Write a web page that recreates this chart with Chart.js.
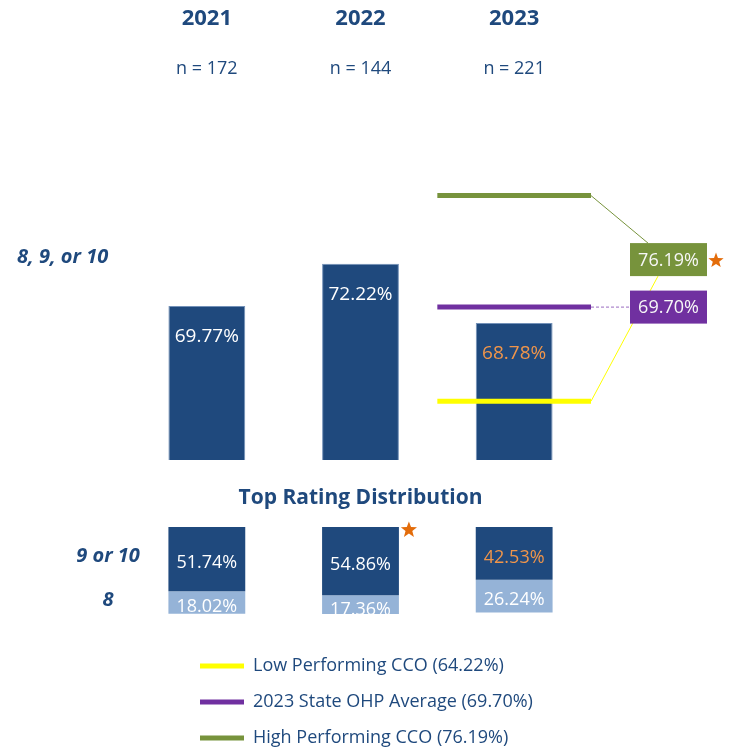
<!DOCTYPE html>
<html><head><meta charset="utf-8">
<script src="https://cdn.jsdelivr.net/npm/chart.js@4.4.1/dist/chart.umd.min.js"></script>
<style>
html,body{margin:0;padding:0;background:#fff;}
#wrap{position:relative;width:729px;height:752px;overflow:hidden;background:#fff;}
canvas{position:absolute;}
</style></head><body>
<div id="wrap">
<canvas id="topChart" width="729" height="475" style="left:0;top:0"></canvas>
<canvas id="botChart" width="729" height="145" style="left:0;top:475px"></canvas>
<canvas id="legChart" width="420" height="300" style="left:182px;top:639px"></canvas>
</div>
<script>
// ---- data ----
const years = ['2021', '2022', '2023'];
const sampleSizes = ['n = 172', 'n = 144', 'n = 221'];
const topBoxValues = [69.77, 72.22, 68.78];      // 8, 9, or 10
const rating9or10 = [51.74, 54.86, 42.53];
const rating8 = [18.02, 17.36, 26.24];
const refNames = ['Low Performing CCO', '2023 State OHP Average', 'High Performing CCO'];
const refValues = [64.22, 69.70, 76.19];
const rowLabels = ['8, 9, or 10', '9 or 10', '8'];
const sectionTitle = 'Top Rating Distribution';

// ---- styles ----
const FONT = "'Open Sans', 'Noto Sans', sans-serif";
const NAVY = '#1F497D', LIGHT = '#95B3D7', ORANGE = '#F0954A', STAR = '#E36C0A';
const refColors = ['#FFFF00', '#7030A0', '#77933C'];
const fmt = v => v.toFixed(2) + '%';
const lastIdx = years.length - 1;

function drawStar(ctx, cx, cy, R, color) {
  const r = R * 0.42;
  ctx.save();
  ctx.beginPath();
  for (let k = 0; k < 10; k++) {
    const a = -Math.PI / 2 + k * Math.PI / 5;
    const rad = k % 2 === 0 ? R : r;
    ctx.lineTo(cx + rad * Math.cos(a), cy + rad * Math.sin(a));
  }
  ctx.closePath();
  ctx.fillStyle = color;
  ctx.fill();
  ctx.restore();
}

// ---- top chart ----
const topDecor = {
  id: 'topDecor',
  afterDatasetsDraw(chart) {
    const ctx = chart.ctx;
    const xs = chart.scales.x, ys = chart.scales.y;
    const barMeta = chart.getDatasetMeta(3);
    ctx.save();
    ctx.textAlign = 'center';
    ctx.textBaseline = 'middle';
    ctx.font = "19px " + FONT;
    barMeta.data.forEach((bar, i) => {
      ctx.fillStyle = i === lastIdx ? ORANGE : '#FFFFFF';
      ctx.fillText(fmt(topBoxValues[i]), bar.x, bar.y + 31);
    });

    const xEnd = xs.getPixelForValue(lastIdx + 0.5);
    const yLow = ys.getPixelForValue(refValues[0]);
    const yState = ys.getPixelForValue(refValues[1]);
    const yHigh = ys.getPixelForValue(refValues[2]);
    const boxX = 630, boxW = 77, boxH = 33;
    const stateCy = yState;
    const highCy = yState - 47.5;

    // connectors
    ctx.lineWidth = 1;
    ctx.strokeStyle = refColors[2];
    ctx.beginPath(); ctx.moveTo(xEnd, yHigh); ctx.lineTo(boxX + 18, highCy - boxH / 2); ctx.stroke();
    ctx.strokeStyle = refColors[0];
    ctx.beginPath(); ctx.moveTo(xEnd, yLow); ctx.lineTo(boxX + 28, highCy + boxH / 2); ctx.stroke();
    ctx.strokeStyle = '#9A6CC0';
    ctx.setLineDash([3, 2]);
    ctx.beginPath(); ctx.moveTo(xEnd, yState); ctx.lineTo(boxX, yState); ctx.stroke();
    ctx.setLineDash([]);

    // boxes
    ctx.font = "18px " + FONT;
    ctx.fillStyle = refColors[2];
    ctx.fillRect(boxX, highCy - boxH / 2, boxW, boxH);
    ctx.fillStyle = '#F7F7F7';
    ctx.fillText(fmt(refValues[2]), boxX + boxW / 2, highCy + 1);
    ctx.fillStyle = refColors[1];
    ctx.fillRect(boxX, stateCy - boxH / 2, boxW, boxH);
    ctx.fillStyle = '#F7F7F7';
    ctx.fillText(fmt(refValues[1]), boxX + boxW / 2, stateCy + 1);
    drawStar(ctx, boxX + boxW + 9, highCy + 1, 8, STAR);

    // row label
    ctx.font = "italic bold 20px " + FONT;
    ctx.fillStyle = NAVY;
    ctx.textAlign = 'left';
    ctx.fillText(rowLabels[0], 17, 257);
    ctx.restore();
  }
};

const refDatasets = refValues.map((v, i) => ({
  type: 'line',
  label: refNames[i],
  data: [{x: lastIdx - 0.5, y: v}, {x: lastIdx + 0.5, y: v}],
  borderColor: refColors[i],
  backgroundColor: refColors[i],
  borderWidth: 5,
  borderCapStyle: 'butt',
  pointRadius: 0,
  xAxisID: 'x', yAxisID: 'y',
  order: 0
}));

new Chart(document.getElementById('topChart'), {
  type: 'bar',
  data: {
    datasets: [...refDatasets, {
      type: 'bar',
      label: rowLabels[0],
      data: topBoxValues.map((v, i) => ({x: i, y: v})),
      backgroundColor: NAVY,
      borderColor: '#7391B8',
      borderWidth: 1,
      borderSkipped: false,
      barPercentage: 0.5,
      categoryPercentage: 1,
      xAxisID: 'x', yAxisID: 'y',
      order: 1
    }]
  },
  options: {
    responsive: false,
    animation: false,
    layout: {padding: {left: 130, right: 138, top: 1.8, bottom: 15}},
    plugins: {legend: {display: false}, tooltip: {enabled: false}},
    scales: {
      x: {type: 'linear', min: -0.5, max: 2.5, offset: false, display: false, ticks: {stepSize: 1}},
      y: {type: 'linear', min: 60.8, max: 81.65, display: false},
      xYear: {
        type: 'category', labels: years, position: 'top', offset: true, weight: 2,
        grid: {display: false}, border: {display: false},
        ticks: {color: NAVY, font: {family: FONT, size: 22, weight: 'bold'}, padding: 4, maxRotation: 0, autoSkip: false}
      },
      xN: {
        type: 'category', labels: sampleSizes, position: 'top', offset: true, weight: 1,
        grid: {display: false}, border: {display: false},
        ticks: {color: NAVY, font: {family: FONT, size: 18}, padding: 14, maxRotation: 0, autoSkip: false}
      }
    }
  },
  plugins: [topDecor]
});

// ---- bottom chart ----
const botDecor = {
  id: 'botDecor',
  afterDatasetsDraw(chart) {
    const ctx = chart.ctx;
    const area = chart.chartArea;
    ctx.save();
    ctx.beginPath();
    ctx.rect(area.left, area.top, area.right - area.left, area.bottom - area.top);
    ctx.clip();
    ctx.textAlign = 'center';
    ctx.textBaseline = 'middle';
    ctx.font = "18px " + FONT;
    const sets = [rating9or10, rating8];
    sets.forEach((vals, d) => {
      chart.getDatasetMeta(d).data.forEach((bar, i) => {
        const cy = (bar.y + bar.base) / 2 + 4;
        ctx.fillStyle = (d === 0 && i === lastIdx) ? ORANGE : '#FFFFFF';
        ctx.fillText(fmt(vals[i]), bar.x, cy);
      });
    });
    ctx.restore();

    ctx.save();
    const b2 = chart.getDatasetMeta(0).data[1];
    drawStar(ctx, b2.x + b2.width / 2 + 10, Math.min(b2.y, b2.base) + 3, 8.5, STAR);
    ctx.font = "italic bold 20px " + FONT;
    ctx.fillStyle = NAVY;
    ctx.textAlign = 'center';
    ctx.textBaseline = 'middle';
    ctx.fillText(rowLabels[1], 108, 81);
    ctx.fillText(rowLabels[2], 108, 125);
    ctx.restore();
  }
};

new Chart(document.getElementById('botChart'), {
  type: 'bar',
  data: {
    datasets: [
      {label: rowLabels[1], data: rating9or10.map((v, i) => ({x: i, y: v})), backgroundColor: NAVY,
       barPercentage: 0.5, categoryPercentage: 1, clip: 0},
      {label: rowLabels[2], data: rating8.map((v, i) => ({x: i, y: v})), backgroundColor: LIGHT,
       barPercentage: 0.5, categoryPercentage: 1, clip: 0}
    ]
  },
  options: {
    responsive: false,
    animation: false,
    layout: {padding: {left: 130, right: 138, top: 0, bottom: 6}},
    plugins: {
      legend: {display: false},
      tooltip: {enabled: false},
      title: {display: true, text: sectionTitle, fullSize: false, color: NAVY,
              font: {family: FONT, size: 21, weight: 'bold'}, padding: {top: 10.4, bottom: 16.4}}
    },
    scales: {
      x: {type: 'linear', min: -0.5, max: 2.5, offset: false, stacked: true, display: false, ticks: {stepSize: 1}},
      y: {type: 'linear', min: 0, max: 70, reverse: true, stacked: true, display: false}
    }
  },
  plugins: [botDecor]
});

// ---- legend ----
new Chart(document.getElementById('legChart'), {
  type: 'line',
  data: {datasets: refDatasets.map(d => ({label: d.label, data: [], borderColor: d.borderColor, backgroundColor: d.backgroundColor}))},
  options: {
    responsive: false,
    animation: false,
    scales: {x: {display: false}, y: {display: false}},
    plugins: {
      tooltip: {enabled: false},
      legend: {
        display: true, position: 'top', align: 'start',
        onClick: null,
        labels: {
          boxWidth: 44, boxHeight: 5, padding: 18, color: NAVY,
          font: {family: FONT, size: 18},
          generateLabels: () => refNames.map((n, i) => ({
            text: n + ' (' + fmt(refValues[i]) + ')',
            fillStyle: refColors[i], strokeStyle: refColors[i], lineWidth: 0,
            fontColor: NAVY, hidden: false, datasetIndex: i
          }))
        }
      }
    }
  }
});
</script>
</body></html>
